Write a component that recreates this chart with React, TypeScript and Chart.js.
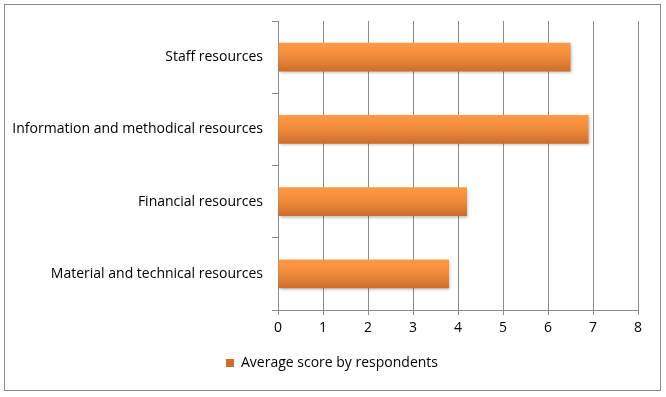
import React, { useEffect, useRef } from "react";
import { Chart, registerables } from "chart.js";

Chart.register(...registerables);

const categories = [
  "Staff resources",
  "Information and methodical resources",
  "Financial resources",
  "Material and technical resources",
];
const scores = [6.5, 6.9, 4.2, 3.8];
const seriesLabel = "Average score by respondents";
const xMin = 0;
const xMax = 8;
const xStep = 1;

const BAR_FRACTION = 0.4;
const FONT = "'Open Sans', 'DejaVu Sans', sans-serif";

const frame = {
  id: "frame",
  beforeDraw(chart: any) {
    const { ctx, width, height } = chart;
    ctx.save();
    ctx.fillStyle = "#ffffff";
    ctx.fillRect(0, 0, width, height);
    ctx.strokeStyle = "#8a8a8a";
    ctx.lineWidth = 1;
    ctx.strokeRect(4.5, 4.5, width - 10, height - 11);
    ctx.restore();
  },
};

// Centre the legend on the whole frame rather than on the padded layout box.
const legendCentre = {
  id: "legendCentre",
  afterLayout(chart: any) {
    const lg = chart.legend;
    if (!lg) return;
    const shift = chart.width / 2 - 1 - (lg.left + lg.right) / 2;
    lg.left += shift;
    lg.right += shift;
  },
};

const shadow = {
  id: "barShadow",
  beforeDatasetsDraw(chart: any) {
    const ctx = chart.ctx;
    ctx.save();
    ctx.shadowColor = "rgba(0,0,0,0.28)";
    ctx.shadowBlur = 3;
    ctx.shadowOffsetX = 1;
    ctx.shadowOffsetY = 1.5;
  },
  afterDatasetsDraw(chart: any) {
    chart.ctx.restore();
  },
};

export default function App() {
  const ref = useRef<HTMLCanvasElement | null>(null);

  useEffect(() => {
    document.body.style.margin = "0";
    const canvas = ref.current;
    if (!canvas) return;
    const chart = new Chart(canvas, {
      type: "bar",
      data: {
        labels: categories,
        datasets: [
          {
            label: seriesLabel,
            data: scores,
            backgroundColor: (c: any) => {
              const ch = c.chart;
              const y = ch.scales && ch.scales.y;
              if (!ch.chartArea || !y || c.type !== "data") return "#F08A3A";
              const center = y.getPixelForValue(c.dataIndex);
              const half = ((y.height / categories.length) * BAR_FRACTION) / 2;
              const g = ch.ctx.createLinearGradient(0, center - half, 0, center + half);
              g.addColorStop(0, "#FF9B45");
              g.addColorStop(0.5, "#F08A3A");
              g.addColorStop(1, "#CD6D2B");
              return g;
            },
            borderWidth: 0,
            categoryPercentage: 1,
            barPercentage: BAR_FRACTION,
          },
        ],
      },
      options: {
        indexAxis: "y",
        responsive: false,
        animation: false,
        layout: { padding: { left: 0, right: 28, top: 21, bottom: 17 } },
        scales: {
          x: {
            min: xMin,
            max: xMax,
            ticks: {
              stepSize: xStep,
              color: "#000000",
              font: { family: FONT, size: 14 },
              padding: 5,
            },
            grid: { color: "#8a8a8a", lineWidth: 1, tickLength: 5 },
            border: { color: "#8a8a8a" },
            afterFit: (s: any) => {
              s.height = 36;
            },
          },
          y: {
            ticks: {
              color: "#000000",
              font: { family: FONT, size: 14 },
              padding: 9,
            },
            grid: { drawOnChartArea: false, color: "#8a8a8a", tickLength: 6 },
            border: { color: "#8a8a8a" },
            afterFit: (s: any) => {
              s.width = 278;
            },
          },
        },
        plugins: {
          legend: {
            position: "bottom",
            labels: {
              boxWidth: 8,
              boxHeight: 8,
              color: "#000000",
              font: { family: FONT, size: 14 },
              padding: 10,
            },
          },
          tooltip: { enabled: false },
        },
      },
      plugins: [frame, legendCentre, shadow],
    });
    return () => chart.destroy();
  }, []);

  return (
    <div style={{ width: 666, height: 397 }}>
      <canvas ref={ref} width={666} height={397} style={{ display: "block" }} />
    </div>
  );
}
